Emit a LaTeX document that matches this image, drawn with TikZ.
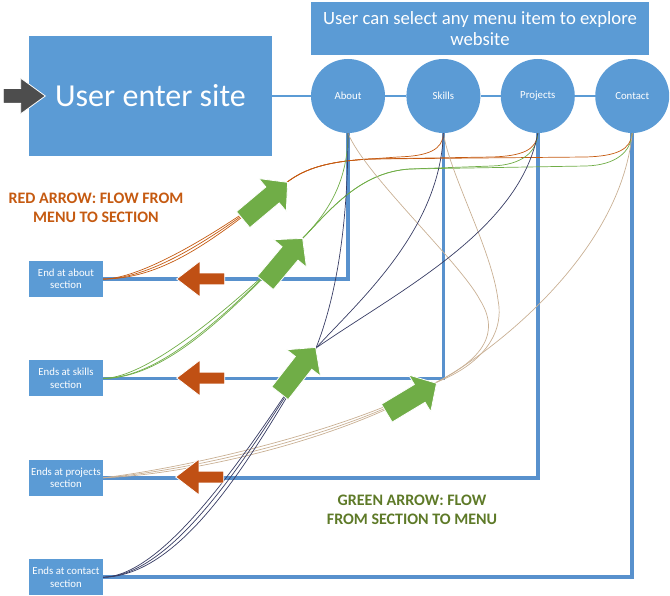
\documentclass[tikz,border=0pt]{standalone}
\usepackage{fontspec}
\setmainfont{Carlito}
\usetikzlibrary{shapes, arrows.meta, positioning}
\definecolor{cBoxFill}{RGB}{91, 155, 213}
\definecolor{cRoute}{RGB}{88, 145, 205}
\definecolor{cRedFlow}{RGB}{197, 90, 17}
\definecolor{cRedArrow}{RGB}{192, 80, 20}
\definecolor{cGreenFlow}{RGB}{112, 173, 71}
\definecolor{cGreenText}{RGB}{94, 122, 40}
\definecolor{cTanFlow}{RGB}{201, 176, 148}
\definecolor{cNavyFlow}{RGB}{55, 60, 100}
\definecolor{cDarkArrow}{RGB}{77, 77, 77}
\tikzset{
    % --- block styles ---
    baseBlock/.style={
        rectangle, fill=cBoxFill, text=white, align=center, inner sep=1pt
    },
    styleEnter/.style={
        baseBlock, minimum width=243pt, minimum height=120pt,
        font=\fontsize{32}{36}\selectfont
    },
    styleMenuHead/.style={
        baseBlock, minimum width=338pt, minimum height=53pt,
        font=\fontsize{18.7}{21}\selectfont
    },
    styleMenu/.style={
        circle, fill=cBoxFill, text=white, minimum size=74pt, inner sep=0pt,
        font=\fontsize{10.8}{12}\selectfont
    },
    styleSection/.style={
        baseBlock, minimum width=74pt, minimum height=36pt, inner sep=0pt,
        font=\fontsize{10.8}{12.5}\selectfont
    },
    styleLegend/.style={
        align=center, font=\bfseries\fontsize{16}{19.5}\selectfont
    },
    % --- line styles ---
    link/.style={draw=cBoxFill, line width=1.2pt},
    route/.style={draw=cRoute, line width=3.5pt},
    flowRed/.style={draw=cRedFlow, line width=0.7pt},
    flowGreen/.style={draw=cGreenFlow, line width=0.7pt},
    flowTan/.style={draw=cTanFlow, line width=0.7pt},
    flowNavy/.style={draw=cNavyFlow, line width=0.7pt},
    % --- block arrows ---
    blockArrow/.style={
        single arrow, inner xsep=0pt, draw=white, line width=0.8pt, anchor=tip
    },
    arrowGreen/.style={
        blockArrow, fill=cGreenFlow, minimum height=58pt, minimum width=42pt,
        inner ysep=10pt, single arrow head extend=11pt, single arrow tip angle=95
    },
    arrowRed/.style={
        blockArrow, fill=cRedArrow, minimum height=48pt, minimum width=35pt,
        inner ysep=5.5pt, single arrow head extend=12pt, single arrow tip angle=75
    },
    arrowEnter/.style={
        blockArrow, fill=cDarkArrow, minimum height=42pt, minimum width=35pt,
        inner ysep=7pt, single arrow head extend=10.5pt, single arrow tip angle=72
    }
}

\begin{document}
\begin{tikzpicture}[x=1pt, y=-1pt]
	\useasboundingbox (0,0) rectangle (670,596);

	% =========================================================
	% 1. Entry and menu
	% =========================================================
	\node [styleEnter] (enter) at (150.5,96) {User enter site};
	\node [styleMenuHead] (menuHead) at (480,28.5) {User can select any menu item to explore\\website};

	\node [styleMenu] (about) at (348,96) {About};
	\node [styleMenu, right=21pt of about] (skills) {Skills};
	\node [styleMenu, right=20pt of skills] (projects) {Projects};
	\node [styleMenu, right=20pt of projects] (contact) {Contact};

	\draw [link] (enter) -- (about) -- (skills) -- (projects) -- (contact);

	% =========================================================
	% 2. Sections
	% =========================================================
	\node [styleSection] (secAbout) at (66,279) {End at about\\section};
	\node [styleSection, below=63pt of secAbout] (secSkills) {Ends at skills\\section};
	\node [styleSection, below=63pt of secSkills] (secProjects) {Ends at projects\\section};
	\node [styleSection, below=63pt of secProjects] (secContact) {Ends at contact\\section};

	\draw [route] (about.south) |- (secAbout.east);
	\draw [route] (skills.south) |- (secSkills.east);
	\draw [route] (projects.south) |- (secProjects.east);
	\draw [route] (contact.south) |- (secContact.east);

	% =========================================================
	% 3. Flows
	% =========================================================
	% --- to about section ---
	\foreach \m/\x/\d in {skills/443/0, projects/537/3, contact/631/6} {
			\draw [flowRed] (secAbout.east) .. controls (145+4*\d,279) and (230-\d,225+\d) .. (290,180)
				.. controls (310,166) and (335,161) .. (370,159) -- (\x-45,157)
				.. controls (\x-15,156) and (\x,150) .. (\m.south);
		}
	% --- to skills section ---
	\foreach \m/\x/\d in {projects/537/0, contact/631/5} {
			\draw [flowGreen] (secSkills.east) .. controls (150+3*\d,378) and (240-\d,300+\d) .. (303,238)
				.. controls (330,210) and (360,172) .. (410,169) -- (\x-45,166)
				.. controls (\x-15,165) and (\x,152) .. (\m.south);
		}
	\draw [flowGreen] (secSkills.east) .. controls (170,378) and (236,305) .. (303,238)
		.. controls (325,215) and (348,185) .. (about.south);
	% --- to projects section ---
	\draw [flowTan] (secProjects.east) .. controls (200,470) and (360,430) .. (437,382)
		.. controls (480,360) and (620,260) .. (contact.south);
	\draw [flowTan] (secProjects.east) .. controls (200,466) and (360,426) .. (437,382)
		.. controls (470,365) and (505,340) .. (480,300)
		.. controls (460,262) and (365,175) .. (about.south);
	\draw [flowTan] (secProjects.east) .. controls (200,474) and (358,434) .. (437,382)
		.. controls (480,365) and (505,335) .. (498,300)
		.. controls (492,250) and (450,175) .. (skills.south);
	% --- to contact section ---
	\draw [flowNavy] (secContact.east) .. controls (165,576) and (248,452) .. (316,348)
		.. controls (335,300) and (348,230) .. (about.south);
	\draw [flowNavy] (secContact.east) .. controls (176,576) and (254,446) .. (316,348)
		.. controls (360,300) and (440,230) .. (skills.south);
	\draw [flowNavy] (secContact.east) .. controls (188,576) and (262,438) .. (316,348)
		.. controls (400,290) and (520,230) .. (projects.south);

	% =========================================================
	% 4. Block arrows
	% =========================================================
	\node [arrowEnter] (inArrow) at (46,96) {};

	\node [arrowGreen, rotate=40] (upAbout) at (288,182) {};
	\node [arrowGreen, rotate=50] (upSkills) at (303,238) {};
	\node [arrowGreen, rotate=52] (upContact) at (316,347) {};
	\node [arrowGreen, rotate=31] (upProjects) at (437,383) {};

	\node [arrowRed, rotate=180] (backAbout) at (176,279) {};
	\node [arrowRed, rotate=180] (backSkills) at (176,378) {};
	\node [arrowRed, rotate=180] (backProjects) at (175,477) {};

	% =========================================================
	% 5. Legends
	% =========================================================
	\node [styleLegend, text=cRedFlow] (legRed) at (96,208) {RED ARROW: FLOW FROM\\MENU TO SECTION};
	\node [styleLegend, text=cGreenText] (legGreen) at (412,510) {GREEN ARROW: FLOW\\FROM SECTION TO MENU};

\end{tikzpicture}
\end{document}
